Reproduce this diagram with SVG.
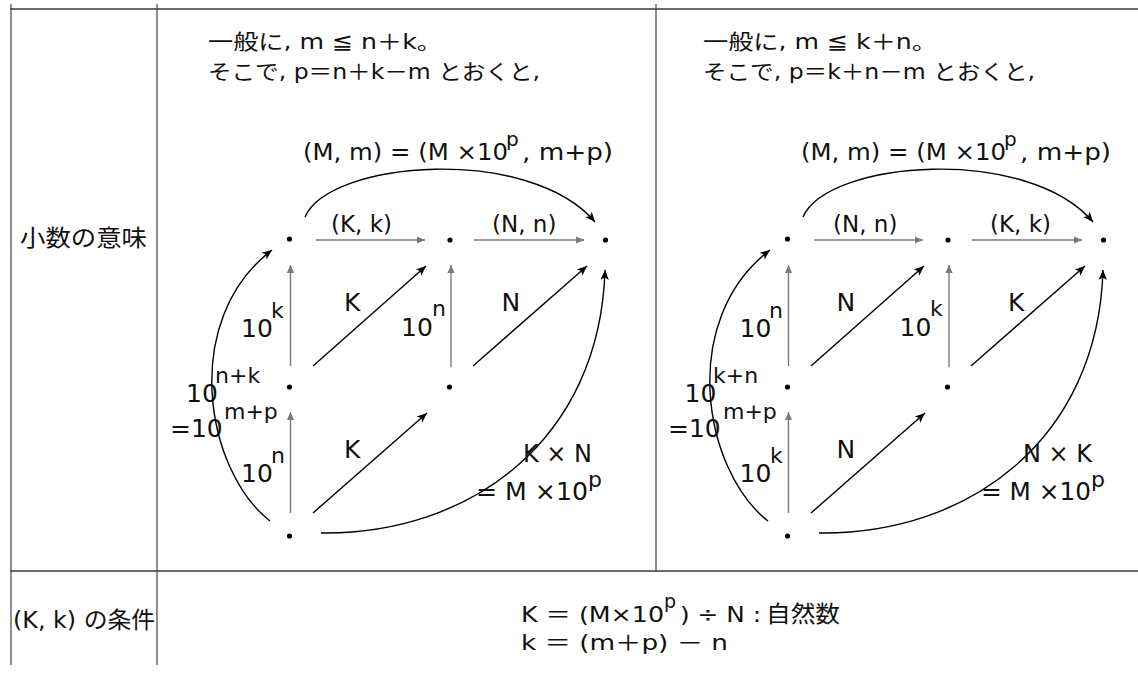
<svg xmlns="http://www.w3.org/2000/svg" width="1138" height="675" viewBox="0 0 1138 675">
<defs>
<style>
text{font-family:"DejaVu Sans","Noto Sans CJK JP",sans-serif;fill:#111}
.t21{font-size:21px}
.t23{font-size:23px}
.t24{font-size:24px}
.t25{font-size:25px}
.s22{font-size:22px}
.s20{font-size:20px}
.g{stroke:#7a7a7a;stroke-width:1.4;fill:none}
.k{stroke:#000;stroke-width:1.4;fill:none}
.hl{stroke:#6a6a6a;stroke-width:2;fill:none}
.vl{stroke:#444;stroke-width:1.2;fill:none}
.dot{fill:#000}
</style>
<marker id="ab" viewBox="-11 -5 12 10" refX="0" refY="0" markerWidth="12" markerHeight="10" markerUnits="userSpaceOnUse" orient="auto"><path d="M0,0 L-10,-4.2 L-7.5,0 L-10,4.2 Z" fill="#000"/></marker>
<marker id="ag" viewBox="-10 -5 11 10" refX="0" refY="0" markerWidth="11" markerHeight="10" markerUnits="userSpaceOnUse" orient="auto"><path d="M0,0 L-8,-3.6 L-8,3.6 Z" fill="#7a7a7a"/></marker>
</defs>
<rect width="1138" height="675" fill="#fff"/>
<g id="table">
<path class="hl" d="M10,9 H1138 M10,571 H1138"/>
<path class="vl" d="M11,4 V665 M157,4 V665 M656,4 V571"/>
</g>
<g id="row-labels">
<text class="t23" x="20" y="246" textLength="127" lengthAdjust="spacingAndGlyphs">小数の意味</text>
<text class="t23" x="13" y="628" textLength="142" lengthAdjust="spacingAndGlyphs">(K, k) の条件</text>
</g>
<g id="intro-left">
<text class="t21" x="208" y="49" textLength="234" lengthAdjust="spacingAndGlyphs">一般に, m ≦ n＋k。</text>
<text class="t21" x="208" y="79" textLength="332" lengthAdjust="spacingAndGlyphs">そこで, p＝n＋k－m とおくと,</text>
</g>
<g id="intro-right">
<text class="t21" x="703" y="49" textLength="234" lengthAdjust="spacingAndGlyphs">一般に, m ≦ k＋n。</text>
<text class="t21" x="703" y="79" textLength="332" lengthAdjust="spacingAndGlyphs">そこで, p＝k＋n－m とおくと,</text>
</g>
<g id="connectors">
<g id="conn-left">
<path class="g" d="M316,240 H425" marker-end="url(#ag)"/>
<path class="g" d="M474,240 H584" marker-end="url(#ag)"/>
<path class="g" d="M290.5,366 V265" marker-end="url(#ag)"/>
<path class="g" d="M290.5,513 V412" marker-end="url(#ag)"/>
<path class="g" d="M451,367 V265" marker-end="url(#ag)"/>
<path class="k" d="M313,366 L426,266" marker-end="url(#ab)"/>
<path class="k" d="M473,366 L587,266" marker-end="url(#ab)"/>
<path class="k" d="M313,513 L427,413" marker-end="url(#ab)"/>
<path class="k" d="M305,217 C330,160 530,145 595,222" marker-end="url(#ab)"/>
<path class="k" d="M270,521 C205,470 180,320 272,250" marker-end="url(#ab)"/>
<path class="k" d="M321,533 C470,535 600,440 605,270" marker-end="url(#ab)"/>
</g>
<g id="conn-right" transform="translate(498,0)">
<path class="g" d="M316,240 H425" marker-end="url(#ag)"/>
<path class="g" d="M474,240 H584" marker-end="url(#ag)"/>
<path class="g" d="M290.5,366 V265" marker-end="url(#ag)"/>
<path class="g" d="M290.5,513 V412" marker-end="url(#ag)"/>
<path class="g" d="M451,367 V265" marker-end="url(#ag)"/>
<path class="k" d="M313,366 L426,266" marker-end="url(#ab)"/>
<path class="k" d="M473,366 L587,266" marker-end="url(#ab)"/>
<path class="k" d="M313,513 L427,413" marker-end="url(#ab)"/>
<path class="k" d="M305,217 C330,160 530,145 595,222" marker-end="url(#ab)"/>
<path class="k" d="M270,521 C205,470 180,320 272,250" marker-end="url(#ab)"/>
<path class="k" d="M321,533 C470,535 600,440 605,270" marker-end="url(#ab)"/>
</g>
</g>
<g id="node-L1"><circle class="dot" cx="289.5" cy="239" r="2.6"/></g>
<g id="node-L2"><circle class="dot" cx="450" cy="240" r="2.6"/></g>
<g id="node-L3"><circle class="dot" cx="605.5" cy="240" r="2.6"/></g>
<g id="node-L4"><circle class="dot" cx="289.5" cy="387" r="2.6"/></g>
<g id="node-L5"><circle class="dot" cx="449.5" cy="387" r="2.6"/></g>
<g id="node-L6"><circle class="dot" cx="289.5" cy="536" r="2.6"/></g>
<g id="node-R1"><circle class="dot" cx="787.5" cy="239" r="2.6"/></g>
<g id="node-R2"><circle class="dot" cx="948" cy="240" r="2.6"/></g>
<g id="node-R3"><circle class="dot" cx="1103.5" cy="240" r="2.6"/></g>
<g id="node-R4"><circle class="dot" cx="787.5" cy="387" r="2.6"/></g>
<g id="node-R5"><circle class="dot" cx="947.5" cy="387" r="2.6"/></g>
<g id="node-R6"><circle class="dot" cx="787.5" cy="536" r="2.6"/></g>
<g id="labels-left">
<text class="t23" x="303" y="160" textLength="205" lengthAdjust="spacingAndGlyphs">(M, m) = (M ×10</text>
<text class="s20" x="506" y="146">p</text>
<text class="t23" x="522" y="160" textLength="91" lengthAdjust="spacingAndGlyphs">, m+p)</text>
<text class="t23" x="331" y="232">(K, k)</text>
<text class="t23" x="492" y="232">(N, n)</text>
<text class="t25" x="241" y="336.5">10</text><text class="s22" x="271" y="317.5">k</text>
<text class="t25" x="344" y="311">K</text>
<text class="t25" x="401" y="335.5">10</text><text class="s22" x="432" y="315.5">n</text>
<text class="t25" x="501.5" y="310.5">N</text>
<text class="t25" x="186" y="401.5">10</text><text class="s22" x="215" y="383">n+k</text>
<text class="t25" x="170" y="436.5">=10</text><text class="s22" x="224" y="418.5">m+p</text>
<text class="t25" x="241" y="481.5">10</text><text class="s22" x="271" y="463">n</text>
<text class="t25" x="344" y="458">K</text>
<text class="t24" x="523" y="461.5">K × N</text>
<text class="t24" x="476" y="500" textLength="112" lengthAdjust="spacingAndGlyphs">= M ×10</text><text class="s22" x="588" y="487">p</text>
</g>
<g id="labels-right">
<text class="t23" x="801" y="160" textLength="205" lengthAdjust="spacingAndGlyphs">(M, m) = (M ×10</text>
<text class="s20" x="1004" y="146">p</text>
<text class="t23" x="1020" y="160" textLength="91" lengthAdjust="spacingAndGlyphs">, m+p)</text>
<text class="t23" x="833" y="232">(N, n)</text>
<text class="t23" x="990" y="232">(K, k)</text>
<text class="t25" x="739.5" y="336.5">10</text><text class="s22" x="769" y="317.5">n</text>
<text class="t25" x="836.5" y="311">N</text>
<text class="t25" x="899.5" y="335.5">10</text><text class="s22" x="930" y="315.5">k</text>
<text class="t25" x="1008" y="311">K</text>
<text class="t25" x="684.5" y="401.5">10</text><text class="s22" x="713" y="383">k+n</text>
<text class="t25" x="668" y="436.5">=10</text><text class="s22" x="723" y="418.5">m+p</text>
<text class="t25" x="739.5" y="481.5">10</text><text class="s22" x="770" y="463">k</text>
<text class="t25" x="836.5" y="458">N</text>
<text class="t24" x="1023" y="461.5">N × K</text>
<text class="t24" x="981" y="500" textLength="110" lengthAdjust="spacingAndGlyphs">= M ×10</text><text class="s22" x="1091" y="487">p</text>
</g>
<g id="condition">
<text class="t21" x="521" y="621.5" textLength="143" lengthAdjust="spacingAndGlyphs">K ＝ (M×10</text>
<text x="664" y="608" style="font-size:19px">p</text>
<text class="t21" x="680" y="621.5" textLength="81" lengthAdjust="spacingAndGlyphs">) ÷ N :</text>
<text class="t23" x="766" y="621.5" textLength="74" lengthAdjust="spacingAndGlyphs">自然数</text>
<text class="t21" x="521" y="650" textLength="207" lengthAdjust="spacingAndGlyphs">k ＝ (m＋p) － n</text>
</g>
</svg>
